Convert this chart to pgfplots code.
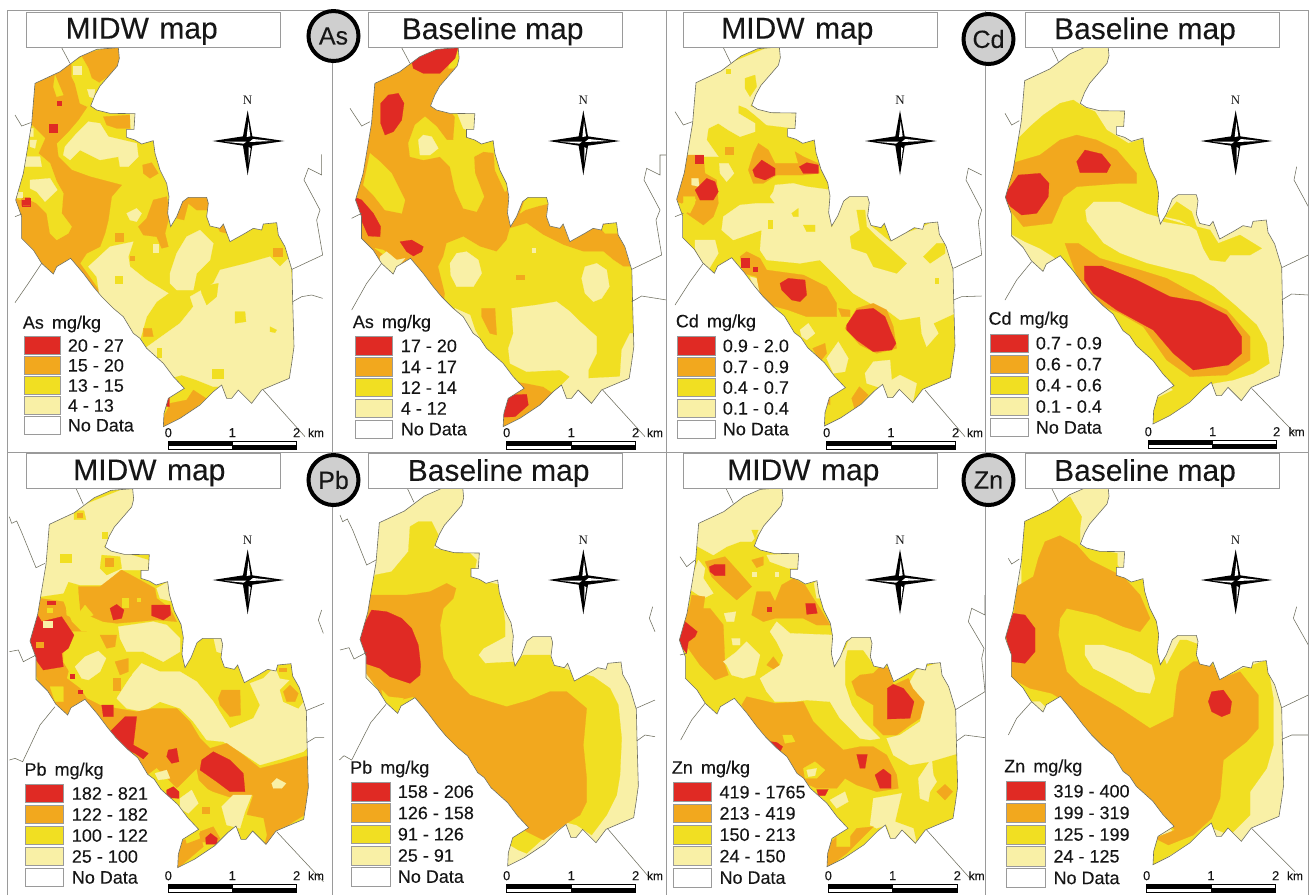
\documentclass[border=0pt]{standalone}
\usepackage{fontspec}
\setmainfont[FakeBold=0.12]{Liberation Sans}
\newfontfamily\serifN{Liberation Serif}
\usepackage{pgfplots}
\usepackage{pgfplotstable}
\pgfplotsset{compat=1.18}
\definecolor{r}{HTML}{E02A24}
\definecolor{o}{HTML}{F2A81E}
\definecolor{y}{HTML}{F1DF22}
\definecolor{p}{HTML}{F9F0A6}
\definecolor{edge}{HTML}{6E6E5E}
\definecolor{fr}{HTML}{9A9A9A}
\definecolor{txt}{HTML}{161616}
\pgfplotstableread{
355 143
358 175
352 198
320 235
300 258
285 285
272 318
290 330
330 340
405 341
402 388
380 388
380 412
405 420
425 432
460 422
465 460
480 510
500 550
507 590
503 640
512 680
530 650
548 605
565 592
620 592
625 610
620 650
630 678
660 685
670 672
690 725
735 700
760 685
785 690
790 672
830 668
835 705
855 740
870 790
876 810
878 900
882 1040
875 1090
868 1135
820 1155
785 1170
755 1210
715 1170
695 1195
680 1195
665 1155
640 1175
600 1215
540 1255
490 1280
492 1240
505 1195
553 1165
520 1130
490 1090
440 1045
420 1015
400 1000
370 950
340 925
305 890
280 860
250 820
212 775
170 800
160 822
125 790
100 750
65 715
65 650
47 600
70 520
85 430
95 370
105 250
180 215
240 170
290 148
355 143
}\outlinetab
\pgfplotstableread{
-400 -400
-400 1800
1500 1800
1500 -400
-400 -400
355 143
358 175
352 198
320 235
300 258
285 285
272 318
290 330
330 340
405 341
402 388
380 388
380 412
405 420
425 432
460 422
465 460
480 510
500 550
507 590
503 640
512 680
530 650
548 605
565 592
620 592
625 610
620 650
630 678
660 685
670 672
690 725
735 700
760 685
785 690
790 672
830 668
835 705
855 740
870 790
876 810
878 900
882 1040
875 1090
868 1135
820 1155
785 1170
755 1210
715 1170
695 1195
680 1195
665 1155
640 1175
600 1215
540 1255
490 1280
492 1240
505 1195
553 1165
520 1130
490 1090
440 1045
420 1015
400 1000
370 950
340 925
305 890
280 860
250 820
212 775
170 800
160 822
125 790
100 750
65 715
65 650
47 600
70 520
85 430
95 370
105 250
180 215
240 170
290 148
355 143
-400 -400
}\masktab
\pgfplotstableread{
0 -92
14 -14
110 0
14 14
0 103
-14 14
-105 0
-14 -14
0 -92
}\stara
\pgfplotstableread{
2 -58
8 -14
-3 -12
2 -58
}\starb
\pgfplotstableread{
16 -6
75 0
5 3
16 -6
}\starc
\pgfplotstableread{
-70 2
-12 8
-4 2
-70 2
}\stard
\pgfplotstableread{
3 18
9 22
3 65
3 18
}\stare
\newcommand\pat[2]{\addplot[fill=#1,draw=#1,line width=.2pt,forget plot] coordinates {#2} --cycle;}
\newcommand\base[3]{\addplot[fill=#1,draw=none,forget plot] table[x expr=\thisrowno{0}+#2,y expr=\thisrowno{1}+#3]{\outlinetab} --cycle;}
\newcommand\mask[2]{\addplot[fill=white,draw=none,even odd rule,forget plot] table[x expr={\thisrowno{0}+#1},y expr={\thisrowno{1}+#2}]{\masktab} --cycle;
\addplot[draw=edge,line width=.6pt,forget plot] table[x expr=\thisrowno{0}+#1,y expr=\thisrowno{1}+#2]{\outlinetab};}
\newcommand\road[1]{\addplot[draw=edge,line width=.55pt,forget plot] coordinates {#1};}
\newcommand\titlebox[5]{\addplot[fill=white,draw=fr,line width=.8pt,forget plot] coordinates {(#1,#2)(#3,#2)(#3,#4)(#1,#4)} --cycle;}
\newcommand\ttl[3]{\node[inner sep=0pt,text=txt,font=\fontsize{30}{30}\selectfont] at (axis cs:#1,{#2+6}) {#3};}
\newcommand\sw[7]{\addplot[fill=#1,draw=fr,line width=.8pt,forget plot] coordinates {(#2,#4)(#3,#4)(#3,#5)(#2,#5)} --cycle;
\node[anchor=west,inner sep=0pt,text=txt,font=\fontsize{18}{18}\selectfont] at (axis cs:#6,{(#4+#5)/2}) {#7};}
\newcommand\hdr[3]{\node[anchor=west,inner sep=0pt,text=txt,font=\fontsize{18}{18}\selectfont] at (axis cs:#1,#2) {#3\hspace{.45em}mg/kg};}
\newcommand\sbar[7]{%
\addplot[fill=black,draw=black,line width=.4pt,forget plot] coordinates {(#1,#5)(#2,#5)(#2,#6)(#1,#6)} --cycle;
\addplot[fill=white,draw=black,line width=.4pt,forget plot] coordinates {(#2,#5)(#3,#5)(#3,#6)(#2,#6)} --cycle;
\addplot[fill=white,draw=black,line width=.4pt,forget plot] coordinates {(#1,#6)(#2,#6)(#2,{#6+12})(#1,{#6+12})} --cycle;
\addplot[fill=black,draw=black,line width=.4pt,forget plot] coordinates {(#2,#6)(#3,#6)(#3,{#6+12})(#2,{#6+12})} --cycle;
\node[inner sep=0pt,text=txt,font=\fontsize{13}{13}\selectfont] at (axis cs:#1,#4) {0};
\node[inner sep=0pt,text=txt,font=\fontsize{13}{13}\selectfont] at (axis cs:#2,#4) {1};
\node[inner sep=0pt,text=txt,font=\fontsize{13}{13}\selectfont] at (axis cs:#3,#4) {2};
\node[inner sep=0pt,text=txt,font=\fontsize{12}{12}\selectfont] at (axis cs:#7,#4) {km};}
\newcommand\compass[3]{%
\addplot[fill=black,draw=none,forget plot] table[x expr=\thisrowno{0}+#1,y expr=\thisrowno{1}+#2]{\stara} --cycle;
\addplot[fill=white,draw=none,forget plot] table[x expr=\thisrowno{0}+#1,y expr=\thisrowno{1}+#2]{\starb} --cycle;
\addplot[fill=white,draw=none,forget plot] table[x expr=\thisrowno{0}+#1,y expr=\thisrowno{1}+#2]{\starc} --cycle;
\addplot[fill=white,draw=none,forget plot] table[x expr=\thisrowno{0}+#1,y expr=\thisrowno{1}+#2]{\stard} --cycle;
\addplot[fill=white,draw=none,forget plot] table[x expr=\thisrowno{0}+#1,y expr=\thisrowno{1}+#2]{\stare} --cycle;
\node[inner sep=0pt,text=txt,font=\fontsize{13}{13}\selectfont\serifN] at (axis cs:#1,#3) {N};}
\pgfplotsset{mp/.style={hide axis,scale only axis,clip=true,y dir=reverse,anchor=north west}}
\begin{document}
\begin{tikzpicture}
\path[use as bounding box,fill=white] (0,0) rectangle (1310pt,-895pt);
% ===== As MIDW =====
\begin{axis}[mp,xmin=0,xmax=996,ymin=0,ymax=1356,width=332pt,height=452pt,at={(0pt,0pt)}]
\base{y}{0}{0}
\pat{o}{(90,240)(180,205)(240,165)(355,135)(365,190)(330,225)(300,245)(285,262)(275,290)(262,320)(235,360)(205,395)(170,430)(175,470)(215,510)(270,530)(365,555)(335,590)(325,660)(315,700)(300,740)(260,760)(240,790)(265,825)(310,890)(200,780)(160,830)(120,800)(50,720)(30,600)(30,400)}
\pat{y}{(60,600)(40,590)(80,420)(90,370)(110,390)(135,415)(115,460)(150,490)(170,545)(190,580)(185,640)(215,680)(205,700)(170,720)(150,700)(140,640)(110,610)(70,590)}
\pat{y}{(215,190)(245,170)(265,205)(275,235)(300,250)(285,290)(262,320)(240,310)(225,250)(215,230)}
\pat{y}{(165,225)(190,285)(170,290)(160,260)}
\pat{o}{(310,350)(390,345)(390,385)(350,385)(320,375)}
\pat{p}{(218,197)(242,197)(242,222)(218,222)}
\pat{p}{(262,268)(285,268)(282,295)(268,290)}
\pat{p}{(390,340)(410,340)(405,390)(392,385)}
\pat{p}{(195,440)(230,400)(265,365)(300,370)(325,410)(410,430)(415,470)(385,500)(360,500)(355,470)(300,480)(270,465)(240,450)(210,480)(190,465)}
\pat{p}{(90,540)(150,535)(172,570)(135,605)(110,575)(90,565)}
\pat{p}{(75,470)(120,470)(125,500)(75,500)}
\pat{p}{(90,420)(110,420)(105,445)(90,440)}
\pat{p}{(88,385)(100,385)(100,410)(85,410)}
\pat{p}{(50,575)(65,575)(65,590)(50,590)}
\pat{o}{(428,495)(455,488)(475,520)(450,535)(430,520)}
\pat{o}{(415,680)(440,655)(460,600)(500,590)(510,640)(495,700)(505,740)(485,745)(470,710)(430,705)}
\pat{p}{(380,640)(410,625)(425,640)(410,665)(390,660)}
\pat{o}{(345,700)(368,700)(368,722)(345,722)}
\pat{p}{(460,733)(475,733)(475,755)(460,755)}
\pat{o}{(530,655)(545,600)(565,585)(625,585)(628,630)(590,630)(565,610)(552,660)}
\pat{o}{(655,685)(670,668)(682,700)(660,695)}
\pat{o}{(820,745)(845,745)(845,768)(820,768)}
\pat{p}{(265,800)(330,740)(400,725)(385,770)(390,800)(440,840)(505,880)(470,905)(440,950)(420,1020)(390,1000)(360,950)(300,895)(290,830)}
\pat{o}{(390,768)(402,768)(402,780)(390,780)}
\pat{p}{(470,1020)(540,970)(580,920)(570,890)(640,850)(660,810)(740,790)(810,770)(840,800)(870,770)(890,1040)(875,1145)(785,1180)(755,1220)(715,1180)(695,1205)(670,1205)(665,1160)(640,1160)(590,1140)(545,1125)(510,1135)(470,1090)(435,1045)}
\pat{p}{(510,820)(530,760)(560,710)(600,690)(640,730)(630,780)(590,820)(580,870)(530,870)(510,850)}
\pat{y}{(705,935)(735,935)(738,965)(705,970)}
\pat{y}{(635,1108)(668,1108)(668,1135)(635,1135)}
\pat{y}{(810,980)(830,990)(825,998)(810,995)}
\pat{y}{(600,860)(655,850)(650,890)(620,915)(605,880)}
\pat{y}{(345,828)(365,828)(365,848)(345,848)}
\pat{y}{(470,1045)(483,1045)(483,1072)(470,1072)}
\pat{o}{(430,985)(455,985)(460,1010)(430,1010)}
\pat{o}{(485,1290)(485,1240)(510,1210)(560,1200)(580,1170)(618,1195)(540,1265)}
\pat{y}{(490,1250)(500,1190)(515,1190)(510,1210)}
\pat{r}{(490,1218)(508,1185)(508,1220)}
\pat{r}{(170,303)(182,303)(182,316)(170,316)}
\pat{r}{(147,372)(172,372)(172,397)(147,397)}
\pat{r}{(65,600)(75,600)(75,593)(90,593)(90,617)(65,617)}
\mask{0}{0}
\road{(185,143)(210,190)}
\road{(45,345)(65,378)(92,368)}
\road{(45,650)(65,642)}
\road{(125,790)(85,850)(45,908)}
\road{(790,1170)(915,1310)}
\road{(965,463)(965,525)(925,505)(912,540)(960,630)(950,660)(968,765)(876,808)}
\road{(878,905)(905,890)(935,885)(968,895)}
\titlebox{78}{37}{840}{143}{}
\compass{743}{423}{302}
\hdr{68}{972}{As}
\sw{r}{72}{180}{1010}{1063}{203}{20 - 27}
\sw{o}{72}{180}{1070}{1122}{203}{15 - 20}
\sw{y}{72}{180}{1130}{1183}{203}{13 - 15}
\sw{p}{72}{180}{1190}{1243}{203}{4 - 13}
\sw{white}{72}{180}{1250}{1302}{203}{No Data}
\sbar{505}{697}{890}{1298}{1323}{1336}{948}
\ttl{425}{88}{MIDW\hspace{.35em}map}
\end{axis}
% ===== As baseline =====
\begin{axis}[mp,xmin=6,xmax=1008,ymin=0,ymax=1356,width=334pt,height=452pt,at={(332pt,0pt)}]
\base{o}{29}{0}
\pat{y}{(340,770)(350,730)(400,710)(450,740)(500,755)(530,720)(540,685)(590,670)(640,705)(700,735)(760,755)(820,755)(850,780)(880,800)(920,800)(925,1100)(880,1145)(830,1170)(790,1220)(700,1200)(640,1160)(590,1150)(555,1145)(530,1150)(470,1100)(400,1020)(380,950)(340,925)(345,880)(325,800)}
\pat{p}{(375,925)(420,945)(435,990)(455,1025)(420,1030)(395,990)}
\pat{o}{(455,925)(495,925)(500,1005)(480,1000)(455,950)}
\pat{p}{(545,925)(620,915)(680,905)(720,935)(750,965)(800,1010)(800,1060)(775,1110)(775,1135)(870,1130)(875,1050)(900,1000)(930,1000)(925,1150)(870,1155)(820,1175)(785,1225)(745,1185)(725,1210)(705,1205)(695,1155)(720,1130)(690,1110)(590,1115)(540,1090)(535,1045)(550,1000)}
\pat{p}{(360,790)(380,760)(410,755)(445,780)(455,820)(430,860)(380,860)(362,825)}
\pat{p}{(755,835)(765,800)(800,790)(830,810)(838,860)(815,895)(790,905)(765,880)}
\pat{o}{(575,1155)(640,1165)(660,1190)(600,1225)(540,1265)(510,1290)(510,1240)(535,1190)(590,1185)}
\pat{r}{(510,1252)(535,1185)(590,1183)(595,1215)(555,1250)}
\pat{o}{(558,825)(582,825)(582,836)(558,836)}
\pat{p}{(605,745)(615,745)(615,755)(605,755)}
\pat{y}{(120,460)(150,485)(185,520)(225,600)(215,640)(165,630)(130,585)(100,555)}
\pat{y}{(235,430)(255,375)(285,350)(320,380)(350,420)(370,420)(375,350)(362,335)(445,335)(445,420)(495,415)(505,460)(460,455)(432,470)(435,520)(462,590)(440,635)(400,625)(375,570)(360,500)(330,470)(280,480)(240,470)}
\pat{p}{(265,420)(280,405)(305,410)(325,445)(300,465)(270,465)}
\pat{y}{(490,440)(510,470)(545,560)(525,575)(495,510)}
\pat{p}{(382,340)(440,335)(440,390)(410,390)(400,385)}
\pat{y}{(370,140)(395,140)(395,185)(370,205)(355,205)}
\pat{r}{(245,185)(290,145)(385,140)(375,175)(345,205)(330,220)(280,220)(250,205)}
\pat{r}{(152,310)(175,285)(205,280)(222,310)(215,360)(190,395)(165,405)(152,370)}
\pat{r}{(70,590)(95,600)(130,640)(152,680)(150,710)(115,708)(85,640)}
\pat{r}{(210,725)(245,720)(280,740)(275,755)(250,768)(230,755)}
\pat{y}{(135,745)(160,750)(205,785)(170,770)}
\pat{p}{(150,770)(170,755)(200,780)(225,775)(195,810)(190,830)(150,795)}
\pat{y}{(570,640)(590,585)(655,585)(660,610)(625,618)(585,630)}
\pat{y}{(810,680)(865,660)(870,700)(825,700)}
\mask{29.5}{0}
\road{(215,143)(240,190)}
\road{(60,325)(95,378)(120,365)}
\road{(65,655)(95,640)}
\road{(155,790)(110,850)(65,930)}
\road{(818,1170)(945,1310)}
\road{(1010,465)(990,465)(990,525)(950,505)(942,540)(990,630)(978,660)(995,765)(905,808)}
\road{(905,905)(935,888)(1010,900)}
\titlebox{115}{37}{877}{143}{}
\compass{760}{423}{302}
\hdr{68}{970}{As}
\sw{r}{75}{187}{1010}{1065}{212}{17 - 20}
\sw{o}{75}{187}{1073}{1128}{212}{14 - 17}
\sw{y}{75}{187}{1135}{1190}{212}{12 - 14}
\sw{p}{75}{187}{1198}{1252}{212}{4 - 12}
\sw{white}{75}{187}{1260}{1315}{212}{No Data}
\sbar{530}{724}{917}{1298}{1323}{1336}{975}
\ttl{488}{88}{Baseline map}
\end{axis}
% ===== Cd MIDW =====
\begin{axis}[mp,xmin=18,xmax=975,ymin=0,ymax=1356,width=319pt,height=452pt,at={(666pt,0pt)}]
\base{y}{3}{-2}
\pat{p}{(355,130)(375,190)(285,290)(270,320)(415,335)(403,385)(320,375)(285,345)(260,325)(235,315)(235,340)(285,370)(285,395)(240,410)(205,390)(175,370)(145,385)(140,420)(175,470)(70,470)(85,240)}
\pat{y}{(255,235)(285,225)(290,260)(270,290)(255,265)}
\pat{y}{(198,208)(210,208)(210,220)(198,220)}
\pat{p}{(340,575)(345,555)(400,550)(440,560)(515,570)(510,640)(515,685)(530,650)(550,600)(565,585)(630,585)(630,650)(635,680)(690,725)(735,700)(790,680)(830,660)(845,700)(860,730)(890,810)(890,900)(885,940)(820,970)(835,1000)(800,1040)(785,1000)(780,950)(720,960)(680,930)(640,915)(580,880)(530,830)(480,780)(420,790)(320,780)(300,750)(305,690)(220,720)(185,690)(190,650)(240,615)(290,610)(345,610)(330,590)}
\pat{y}{(570,710)(600,690)(590,630)(615,630)(620,680)(650,710)(690,745)(740,790)(710,820)(640,800)(620,760)(575,745)}
\pat{y}{(790,770)(830,730)(855,730)(855,760)(810,790)}
\pat{y}{(395,640)(415,625)(415,650)(400,650)}
\pat{y}{(430,675)(465,675)(465,695)(440,695)}
\pat{y}{(325,660)(335,660)(335,685)(325,685)}
\pat{y}{(825,835)(835,835)(835,848)(825,848)}
\pat{p}{(105,720)(165,720)(175,760)(145,810)(125,785)(105,745)}
\pat{p}{(178,490)(205,490)(222,520)(200,545)(180,520)}
\pat{p}{(420,990)(445,970)(465,1000)(440,1020)(425,1010)}
\pat{p}{(500,1075)(535,1025)(565,1075)(555,1115)(520,1120)}
\pat{p}{(615,1120)(640,1085)(690,1080)(695,1140)(720,1125)(770,1150)(755,1225)(715,1185)(695,1205)(680,1205)(665,1165)(620,1150)}
\pat{p}{(270,830)(290,835)(300,880)(280,860)}
\pat{o}{(80,465)(130,465)(135,520)(170,540)(175,610)(160,650)(130,675)(80,640)(110,600)(100,590)(65,610)(40,600)(65,530)}
\pat{y}{(70,590)(105,590)(105,610)(90,640)(70,630)}
\pat{p}{(95,535)(115,535)(118,560)(95,555)}
\pat{o}{(195,440)(220,440)(220,463)(195,463)}
\pat{o}{(280,460)(295,430)(325,450)(345,490)(415,490)(405,455)(430,470)(475,490)(478,520)(430,525)(350,525)(310,550)(280,550)(265,510)}
\pat{o}{(240,770)(260,755)(300,775)(320,810)(430,825)(500,860)(530,910)(530,950)(440,950)(385,930)(310,910)(300,880)(290,830)(250,820)}
\pat{o}{(535,925)(570,930)(570,950)(545,950)}
\pat{o}{(458,1045)(495,1030)(500,1060)(480,1085)}
\pat{o}{(555,985)(590,925)(640,910)(680,930)(700,980)(710,1045)(650,1060)(600,1035)}
\pat{o}{(575,1195)(598,1160)(625,1185)(585,1230)}
\pat{o}{(495,1205)(510,1195)(510,1215)}
\pat{r}{(560,975)(590,930)(640,925)(675,950)(695,1000)(708,1030)(695,1050)(640,1055)(590,1020)(560,990)}
\pat{r}{(360,850)(385,835)(435,840)(440,885)(420,905)(395,900)(365,870)}
\pat{r}{(242,775)(268,775)(268,800)(242,800)}
\pat{r}{(278,800)(290,800)(290,812)(278,812)}
\pat{r}{(105,570)(140,535)(165,545)(175,575)(160,600)(120,600)}
\pat{r}{(105,465)(128,465)(128,488)(105,488)}
\pat{r}{(278,510)(305,480)(345,505)(345,525)(315,540)(285,530)}
\pat{r}{(418,500)(440,488)(475,495)(475,520)(430,520)}
\mask{3}{-2}
\road{(190,143)(212,188)}
\road{(45,335)(70,375)(97,365)}
\road{(45,650)(70,640)}
\road{(130,790)(90,845)(45,915)}
\road{(795,1170)(915,1310)}
\road{(965,525)(925,505)(918,540)(965,630)(955,665)(965,765)(880,805)}
\road{(880,900)(905,890)(965,888)}
\titlebox{70}{37}{832}{143}{}
\compass{720}{423}{302}
\hdr{47}{968}{Cd}
\sw{r}{52}{165}{1010}{1065}{188}{0.9 - 2.0}
\sw{o}{52}{165}{1073}{1128}{188}{0.7 - 0.9}
\sw{y}{52}{165}{1135}{1190}{188}{0.4 - 0.7}
\sw{p}{52}{165}{1198}{1252}{188}{0.1 - 0.4}
\sw{white}{52}{165}{1260}{1315}{188}{No Data}
\sbar{500}{693}{887}{1298}{1323}{1336}{945}
\ttl{412}{88}{MIDW\hspace{.35em}map}
\end{axis}
% ===== Cd baseline =====
\begin{axis}[mp,xmin=15,xmax=990,ymin=0,ymax=1356,width=325pt,height=452pt,at={(985pt,0pt)}]
\base{p}{29}{-8}
\pat{y}{(100,430)(150,380)(190,345)(240,310)(280,300)(310,320)(345,335)(380,390)(405,405)(445,430)(495,415)(505,470)(540,540)(545,640)(550,665)(640,680)(500,640)(420,605)(340,605)(315,630)(320,665)(370,730)(420,760)(500,790)(560,805)(640,825)(700,860)(770,920)(830,975)(860,1030)(868,1090)(820,1120)(760,1140)(700,1150)(690,1160)(640,1195)(560,1260)(510,1270)(520,1200)(580,1170)(550,1140)(510,1100)(440,1030)(420,1000)(390,960)(340,905)(300,860)(250,800)(220,770)(180,745)(135,725)(90,700)(65,600)(90,480)}
\pat{y}{(570,630)(590,605)(635,635)(650,680)(690,690)(715,730)(780,705)(845,745)(810,765)(750,765)(735,785)(690,780)(670,745)(650,690)(600,660)(555,650)}
\pat{o}{(95,490)(180,465)(240,420)(290,405)(350,420)(410,450)(470,520)(470,550)(420,550)(290,560)(250,590)(215,670)(130,680)(90,630)(70,590)}
\pat{r}{(70,590)(115,525)(180,520)(207,550)(205,590)(170,640)(125,645)(92,620)}
\pat{r}{(290,485)(315,450)(365,462)(392,495)(380,518)(300,518)}
\pat{o}{(255,730)(295,730)(360,775)(480,810)(560,835)(660,890)(740,930)(810,1010)(810,1080)(740,1125)(630,1130)(560,1080)(490,980)(420,940)(350,910)(310,870)(280,800)}
\pat{r}{(313,798)(365,798)(470,840)(570,890)(660,905)(740,945)(785,1010)(785,1060)(745,1095)(640,1110)(580,1060)(520,990)(410,930)(340,880)(313,840)}
\mask{29}{-8}
\road{(215,143)(235,185)}
\road{(75,340)(95,375)(118,362)}
\road{(155,785)(110,840)(75,900)}
\road{(815,1165)(945,1300)}
\road{(950,500)(942,540)(985,620)}
\road{(985,765)(905,803)}
\road{(905,900)(935,882)(985,885)}
\titlebox{136}{37}{898}{143}{}
\compass{767}{423}{302}
\hdr{25}{960}{Cd}
\sw{r}{30}{145}{1002}{1057}{167}{0.7 - 0.9}
\sw{o}{30}{145}{1065}{1120}{167}{0.6 - 0.7}
\sw{y}{30}{145}{1128}{1183}{167}{0.4 - 0.6}
\sw{p}{30}{145}{1192}{1247}{167}{0.1 - 0.4}
\sw{white}{30}{145}{1255}{1310}{167}{No Data}
\sbar{505}{698}{890}{1295}{1320}{1333}{950}
\ttl{495}{88}{Baseline map}
\end{axis}
% ===== Pb MIDW =====
\begin{axis}[mp,xmin=0,xmax=996,ymin=21,ymax=1350,width=332pt,height=443pt,at={(0pt,-452pt)}]
\base{y}{43}{-12}
\pat{p}{(140,225)(400,120)(420,190)(310,305)(445,345)(445,375)(360,375)(310,420)(240,420)(205,410)(190,445)(120,455)}
\pat{y}{(305,330)(360,335)(365,370)(320,390)(300,370)}
\pat{o}{(315,340)(338,340)(338,362)(315,362)}
\pat{y}{(305,260)(320,260)(320,280)(305,280)}
\pat{y}{(222,197)(252,197)(258,224)(222,224)}
\pat{o}{(230,203)(247,203)(247,216)(230,216)}
\pat{y}{(180,328)(212,328)(212,350)(180,350)}
\pat{o}{(235,425)(300,425)(365,375)(420,405)(465,430)(470,460)(510,490)(530,530)(470,525)(350,535)(310,530)(240,500)}
\pat{y}{(365,460)(385,460)(385,485)(365,485)}
\pat{y}{(410,458)(420,458)(420,468)(410,468)}
\pat{p}{(470,430)(505,410)(520,470)(480,460)}
\pat{p}{(355,545)(460,530)(500,540)(540,580)(540,620)(490,650)(430,620)(380,620)(360,580)}
\pat{p}{(350,760)(395,690)(425,655)(480,680)(540,680)(590,710)(640,770)(690,850)(760,820)(780,780)(750,715)(790,700)(830,660)(880,710)(925,800)(930,900)(910,920)(850,940)(780,960)(720,920)(670,890)(620,885)(580,830)(540,790)(480,770)(430,800)(380,790)}
\pat{o}{(120,460)(190,470)(215,530)(245,560)(260,560)(215,640)(200,700)(240,730)(260,760)(300,780)(350,790)(410,800)(460,790)(530,790)(570,830)(600,880)(630,910)(680,895)(730,930)(780,970)(840,955)(930,930)(930,1100)(880,1130)(830,1165)(790,1210)(760,1165)(790,1130)(740,1110)(760,1050)(700,1060)(640,1040)(600,1020)(590,970)(530,1030)(510,1060)(470,1020)(440,1000)(400,950)(340,900)(300,860)(250,770)(200,820)(170,800)(130,740)(90,650)(75,590)(95,500)}
\pat{y}{(150,725)(190,725)(190,770)(165,770)}
\pat{y}{(190,550)(215,560)(280,560)(300,565)(350,545)(355,620)(395,660)(395,690)(350,740)(350,760)(330,730)(300,700)(250,720)(220,700)(190,650)(190,600)}
\pat{p}{(225,665)(255,635)(295,618)(318,640)(300,680)(265,705)(245,700)}
\pat{o}{(345,650)(385,640)(385,680)(360,690)}
\pat{o}{(340,700)(360,700)(360,735)(340,735)}
\pat{o}{(300,570)(350,570)(345,605)(320,610)}
\pat{y}{(195,450)(235,450)(240,500)(255,480)(280,510)(240,530)(200,510)}
\pat{y}{(430,1000)(470,970)(530,1030)(590,1000)(640,1050)(700,1060)(740,1110)(790,1120)(800,1170)(790,1210)(750,1175)(730,1200)(710,1180)(700,1150)(650,1190)(600,1180)(595,1160)(560,1130)(520,1090)(470,1040)}
\pat{p}{(465,985)(500,975)(510,1000)(475,1005)}
\pat{p}{(540,1060)(575,1035)(595,1075)(565,1105)(540,1090)}
\pat{p}{(665,1085)(700,1050)(755,1050)(735,1100)(720,1150)(680,1140)}
\pat{p}{(815,1015)(830,1000)(858,1015)(845,1030)(820,1030)}
\pat{o}{(605,1085)(628,1085)(628,1105)(605,1105)}
\pat{o}{(600,1160)(640,1145)(660,1180)(650,1195)(600,1190)}
\pat{o}{(525,1280)(540,1190)(600,1165)(610,1205)(545,1260)}
\pat{y}{(555,1170)(595,1160)(600,1180)(560,1195)}
\pat{y}{(825,665)(875,650)(880,700)(895,715)(910,770)(895,790)(850,770)(840,735)(870,705)(840,700)}
\pat{o}{(850,740)(870,720)(895,745)(885,770)(860,770)}
\pat{o}{(838,668)(858,668)(858,678)(838,678)}
\pat{o}{(655,760)(665,735)(720,735)(722,810)(690,815)(660,780)}
\pat{p}{(640,575)(670,575)(665,625)(650,620)}
\pat{r}{(80,590)(110,505)(125,530)(185,515)(222,570)(205,610)(185,625)(190,665)(130,675)(105,640)}
\pat{p}{(130,527)(155,527)(155,545)(130,545)}
\pat{o}{(108,590)(130,590)(130,605)(108,605)}
\pat{r}{(142,468)(165,468)(165,478)(142,478)}
\pat{y}{(140,490)(155,490)(155,500)(140,500)}
\pat{r}{(330,490)(350,478)(372,495)(365,520)(340,525)}
\pat{r}{(455,480)(510,480)(512,510)(490,525)(455,512)}
\pat{r}{(210,687)(222,687)(222,698)(210,698)}
\pat{r}{(235,735)(247,735)(247,745)(235,745)}
\pat{r}{(305,780)(340,780)(340,815)(310,815)}
\pat{r}{(330,860)(375,815)(410,815)(400,900)(445,925)(430,942)(405,925)(350,900)}
\pat{r}{(505,915)(530,910)(537,950)(515,955)(500,935)}
\pat{r}{(605,945)(640,920)(690,945)(730,985)(735,1040)(690,1040)(650,1010)(600,975)}
\pat{r}{(500,1035)(520,1025)(537,1040)(537,1060)(500,1058)}
\pat{r}{(617,1178)(632,1165)(652,1180)(650,1198)(618,1198)}
\mask{43}{-12}
\road{(228,130)(250,178)}
\road{(28,215)(35,235)(50,228)(65,262)(108,368)(135,355)}
\road{(28,620)(55,615)(70,650)(108,630)}
\road{(165,785)(120,840)(68,950)(45,940)(28,945)}
\road{(830,1160)(970,1310)}
\road{(965,495)(955,525)(970,565)}
\road{(972,775)(918,797)}
\road{(920,893)(945,878)(972,878)}
\titlebox{78}{25}{840}{130}{}
\compass{743}{405}{285}
\hdr{73}{978}{Pb}
\sw{r}{77}{190}{1018}{1073}{215}{182 - 821}
\sw{o}{77}{190}{1081}{1136}{215}{122 - 182}
\sw{y}{77}{190}{1144}{1199}{215}{100 - 122}
\sw{p}{77}{190}{1207}{1262}{215}{25 - 100}
\sw{white}{77}{190}{1270}{1325}{215}{No Data}
\sbar{505}{697}{890}{1292}{1317}{1330}{948}
\ttl{448}{78}{MIDW\hspace{.35em}map}
\end{axis}
% ===== Pb baseline =====
\begin{axis}[mp,xmin=6,xmax=1008,ymin=21,ymax=1350,width=334pt,height=443pt,at={(332pt,-452pt)}]
\base{p}{43}{-17}
\pat{y}{(135,390)(185,380)(235,320)(240,245)(265,230)(305,230)(325,270)(310,310)(420,325)(440,345)(430,400)(510,420)(525,530)(525,575)(460,610)(445,630)(465,655)(560,650)(580,630)(660,630)(670,660)(730,680)(790,695)(840,730)(865,780)(875,880)(870,990)(860,1050)(830,1110)(785,1170)(740,1140)(700,1130)(640,1180)(550,1165)(530,1100)(440,1000)(300,840)(260,780)(170,790)(90,640)(120,440)}
\pat{y}{(550,1165)(610,1165)(640,1180)(590,1225)(565,1215)(540,1200)}
\pat{o}{(110,450)(230,450)(300,440)(350,415)(378,430)(370,460)(340,490)(330,540)(340,640)(370,700)(420,750)(480,770)(530,785)(600,765)(660,740)(710,740)(770,790)(760,900)(770,1000)(770,1070)(750,1110)(710,1135)(640,1185)(590,1160)(510,1090)(440,1010)(320,880)(250,755)(170,775)(150,740)(105,680)}
\pat{y}{(155,735)(175,755)(220,760)(205,810)(165,790)}
\pat{r}{(80,580)(125,495)(170,500)(215,520)(245,550)(265,600)(272,660)(270,690)(240,715)(180,695)(150,670)(105,655)}
\mask{43}{-17}
\road{(232,130)(252,172)}
\road{(30,210)(38,230)(52,222)(68,255)(110,360)(138,345)}
\road{(30,615)(57,608)(72,642)(110,622)}
\road{(168,778)(122,833)(65,945)(42,932)(28,945)}
\road{(832,1150)(960,1300)}
\road{(968,485)(958,520)(975,560)}
\road{(975,765)(918,790)}
\road{(920,888)(945,870)(975,875)}
\titlebox{115}{25}{877}{130}{}
\compass{760}{405}{285}
\hdr{60}{972}{Pb}
\sw{r}{65}{180}{1012}{1068}{203}{158 - 206}
\sw{o}{65}{180}{1076}{1132}{203}{126 - 158}
\sw{y}{65}{180}{1140}{1195}{203}{91 - 126}
\sw{p}{65}{180}{1203}{1260}{203}{25 - 91}
\sw{white}{65}{180}{1267}{1323}{203}{No Data}
\sbar{530}{724}{917}{1292}{1317}{1330}{975}
\ttl{506}{78}{Baseline map}
\end{axis}
% ===== Zn MIDW =====
\begin{axis}[mp,xmin=18,xmax=975,ymin=21,ymax=1350,width=319pt,height=443pt,at={(666pt,-452pt)}]
\base{y}{11}{-15}
\pat{p}{(105,225)(300,120)(380,125)(375,190)(300,260)(275,290)(240,290)(200,305)(160,330)(105,300)}
\pat{y}{(275,255)(295,255)(285,280)}
\pat{p}{(320,330)(420,325)(415,370)(385,370)(330,350)}
\pat{p}{(115,345)(135,370)(130,400)(160,445)(130,460)(100,440)(85,430)}
\pat{o}{(135,350)(195,335)(240,385)(275,425)(230,465)(190,430)(155,395)}
\pat{o}{(275,345)(310,335)(310,360)(290,368)}
\pat{r}{(148,365)(165,358)(195,358)(195,392)(165,392)(150,380)}
\pat{p}{(275,380)(288,380)(288,392)(275,392)}
\pat{p}{(345,380)(355,380)(355,392)(345,392)}
\pat{o}{(275,510)(290,440)(330,440)(345,470)(365,420)(400,400)(435,420)(460,460)(480,490)(510,540)(470,540)(430,520)(345,520)(310,530)}
\pat{p}{(462,415)(478,402)(490,460)(470,460)}
\pat{r}{(437,475)(465,475)(472,505)(440,508)}
\pat{r}{(320,485)(332,485)(332,497)(320,497)}
\pat{o}{(90,480)(95,450)(135,455)(130,490)(150,490)(190,540)(195,660)(205,690)(165,705)(120,660)(85,610)(55,580)(75,510)}
\pat{r}{(55,580)(75,530)(112,560)(105,575)(85,590)(80,625)(60,600)}
\pat{p}{(192,505)(228,500)(222,530)(200,530)}
\pat{p}{(215,580)(240,580)(240,600)(218,600)}
\pat{p}{(190,650)(230,620)(260,590)(300,630)(285,690)(250,700)(215,690)(200,660)}
\pat{p}{(330,560)(350,530)(390,565)(520,570)(515,620)(525,665)(545,625)(565,600)(555,650)(555,720)(575,780)(610,830)(660,880)(630,885)(600,880)(540,820)(510,770)(440,765)(400,770)(345,770)(320,740)(300,700)(360,660)(370,630)(350,590)}
\pat{o}{(320,660)(340,635)(358,660)(340,672)}
\pat{p}{(555,615)(570,575)(640,570)(635,650)(610,615)}
\pat{o}{(575,710)(600,690)(640,685)(660,665)(690,670)(700,720)(745,700)(760,730)(795,770)(780,820)(750,840)(710,870)(670,870)(640,840)(640,780)(590,750)}
\pat{r}{(682,730)(700,718)(730,730)(762,770)(750,820)(682,822)}
\pat{p}{(750,710)(770,675)(845,650)(855,700)(885,760)(895,900)(895,925)(810,950)(750,960)(700,930)(680,880)(720,870)(780,830)(795,770)(760,730)}
\pat{o}{(245,780)(260,755)(345,775)(430,770)(460,830)(500,870)(550,915)(600,905)(640,905)(680,930)(710,990)(715,1030)(650,1040)(590,1020)(555,1000)(530,1030)(470,1030)(415,1005)(385,955)(335,905)(285,855)(265,810)}
\pat{y}{(368,870)(395,870)(405,890)(375,895)}
\pat{y}{(430,970)(465,950)(495,975)(470,1000)(435,1000)}
\pat{p}{(440,975)(470,970)(465,992)(445,995)}
\pat{r}{(315,888)(350,892)(368,905)(360,920)}
\pat{r}{(470,1033)(505,1033)(495,1052)(475,1052)}
\pat{r}{(590,928)(622,928)(615,970)(600,970)}
\pat{r}{(645,990)(670,972)(693,990)(693,1030)(660,1030)}
\pat{p}{(510,1065)(555,1040)(565,1070)(530,1090)}
\pat{p}{(630,1140)(640,1060)(725,1045)(705,1130)(760,1150)(770,1195)(735,1160)(710,1180)(695,1185)(680,1140)(650,1150)}
\pat{p}{(775,1000)(815,940)(820,990)(830,1010)(810,1040)(805,1070)(780,1060)}
\pat{o}{(830,1040)(855,1018)(878,1040)(855,1065)}
\pat{o}{(495,1270)(505,1200)(530,1175)(570,1175)(590,1150)(640,1145)(560,1225)(520,1255)}
\pat{y}{(530,1170)(570,1160)(570,1205)(530,1205)}
\mask{11}{-15}
\road{(198,130)(220,175)}
\road{(60,335)(80,365)(105,345)}
\road{(60,630)(80,625)}
\road{(135,775)(95,825)(62,885)}
\road{(800,1155)(930,1300)}
\road{(975,450)(975,510)(935,490)(925,530)(972,610)(965,640)(975,740)(885,795)}
\road{(890,888)(915,870)(975,878)}
\titlebox{70}{25}{832}{130}{}
\compass{720}{405}{285}
\hdr{35}{972}{Zn}
\sw{r}{40}{155}{1013}{1070}{178}{419 - 1765}
\sw{o}{40}{155}{1077}{1133}{178}{213 - 419}
\sw{y}{40}{155}{1141}{1197}{178}{150 - 213}
\sw{p}{40}{155}{1205}{1262}{178}{24 - 150}
\sw{white}{40}{155}{1270}{1326}{178}{No Data}
\sbar{505}{698}{892}{1292}{1317}{1330}{950}
\ttl{430}{78}{MIDW\hspace{.35em}map}
\end{axis}
% ===== Zn baseline =====
\begin{axis}[mp,xmin=15,xmax=990,ymin=21,ymax=1350,width=325pt,height=443pt,at={(985pt,-452pt)}]
\base{p}{29}{-21}
\pat{y}{(90,430)(125,420)(125,220)(270,155)(305,215)(300,250)(300,300)(320,310)(412,325)(412,360)(440,395)(490,395)(540,540)(540,600)(560,660)(600,585)(620,585)(660,600)(660,650)(700,650)(720,700)(790,670)(860,645)(870,700)(880,760)(880,900)(860,970)(810,1040)(810,1110)(750,1170)(700,1150)(640,1190)(510,1265)(515,1180)(580,1160)(530,1100)(480,1040)(440,1000)(410,950)(300,830)(240,760)(190,800)(150,770)(90,700)(75,600)}
\pat{o}{(110,425)(160,395)(175,340)(195,290)(240,272)(290,300)(330,345)(430,395)(480,450)(510,520)(480,560)(430,545)(350,510)(260,490)(240,520)(235,570)(260,680)(300,720)(420,790)(510,850)(580,815)(590,720)(600,680)(640,650)(690,650)(725,700)(780,680)(835,750)(835,850)(800,890)(730,945)(720,1060)(695,1120)(640,1170)(565,1200)(525,1180)(585,1155)(490,1060)(430,990)(420,960)(300,830)(240,760)(215,745)(150,730)(95,700)(90,640)}
\pat{p}{(315,600)(370,600)(450,625)(515,660)(525,700)(510,745)(470,740)(400,700)(340,670)(315,630)}
\pat{r}{(75,560)(100,505)(135,510)(165,550)(165,620)(135,655)(95,650)}
\pat{r}{(685,770)(695,740)(730,735)(755,770)(750,805)(725,815)(695,800)}
\pat{p}{(145,770)(180,770)(200,790)(185,810)}
\mask{29}{-21}
\road{(215,130)(235,170)}
\road{(85,340)(95,357)(118,342)}
\road{(155,770)(110,820)(85,870)}
\road{(815,1150)(945,1280)}
\road{(950,485)(940,520)(985,600)}
\road{(985,750)(905,788)}
\road{(905,883)(935,870)(985,870)}
\titlebox{136}{25}{898}{130}{}
\compass{767}{405}{285}
\hdr{72}{968}{Zn}
\sw{r}{80}{196}{1010}{1067}{220}{319 - 400}
\sw{o}{80}{196}{1075}{1132}{220}{199 - 319}
\sw{y}{80}{196}{1140}{1197}{220}{125 - 199}
\sw{p}{80}{196}{1205}{1263}{220}{24 - 125}
\sw{white}{80}{196}{1270}{1328}{220}{No Data}
\sbar{500}{693}{887}{1292}{1317}{1330}{945}
\ttl{495}{78}{Baseline map}
\end{axis}
% ===== frames and badges =====
\begin{axis}[mp,xmin=0,xmax=1310,ymin=0,ymax=895,width=1310pt,height=895pt,at={(0pt,0pt)},clip=false]
\addplot[draw=fr,line width=.8pt,forget plot] coordinates {(7,895)(7,10.5)(1308,10.5)(1308,895)};
\addplot[draw=fr,line width=.8pt,forget plot] coordinates {(7,452)(1308,452)};
\addplot[draw=fr,line width=.8pt,forget plot] coordinates {(332,10)(332,895)};
\addplot[draw=fr,line width=.8pt,forget plot] coordinates {(666,10)(666,895)};
\addplot[draw=fr,line width=.8pt,forget plot] coordinates {(985,10)(985,895)};
\foreach \cx/\cy/\nm in {333.5/36/As,988.5/39/Cd,333.5/480/Pb,988.5/480/Zn}{
\edef\temp{\noexpand\node[circle,draw=black,fill=gray!38,line width=4pt,minimum size=50pt,inner sep=0pt,text=txt,font=\noexpand\fontsize{25}{25}\noexpand\selectfont] at (axis cs:\cx,\cy) {\nm};}\temp
}
\end{axis}
\end{tikzpicture}
\end{document}
